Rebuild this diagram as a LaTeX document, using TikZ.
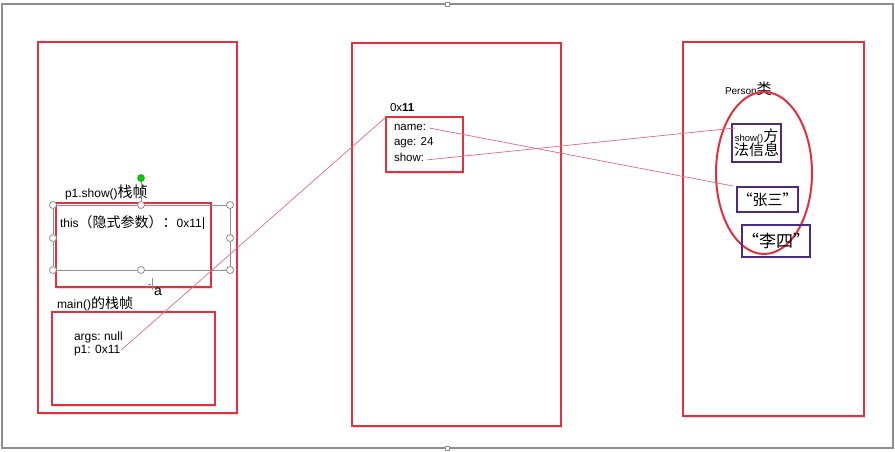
\documentclass[tikz,border=0pt]{standalone}
\usepackage{fontspec}
\setmainfont{Liberation Sans}
\newfontfamily\cjk{Noto Sans CJK SC}
\usetikzlibrary{positioning,shadows}
\definecolor{boxred}{HTML}{E2303F}
\definecolor{linkred}{HTML}{E06A80}
\definecolor{objpurple}{HTML}{4E2A80}
\definecolor{framegray}{HTML}{8E8E8E}
\begin{document}
\begin{tikzpicture}[x=1pt,y=-1pt,
  every node/.style={inner sep=0pt,outer sep=0pt},
  area/.style={draw=boxred,fill=white,line width=2pt,anchor=north west,
    drop shadow={opacity=0.25,shadow xshift=1pt,shadow yshift=-2pt}},
  entry/.style={draw=objpurple,line width=2pt,anchor=north west,align=center},
  handle/.style={circle,draw=framegray,fill=white,line width=0.8pt,minimum size=7pt},
  txt/.style={anchor=base west,font=\fontsize{11.5}{13}\selectfont},
  link/.style={draw=linkred,line width=0.7pt}]
  \useasboundingbox (0,0) rectangle (895,452);
  \draw[framegray,line width=1.5pt] (2,4) rectangle (893,448);
  \node[draw=framegray,fill=white,minimum size=4pt] (top) at (447,4) {};
  \node[draw=framegray,fill=white,minimum size=4pt] (bottom) at (447,448) {};
  % three memory areas
  \node[area,minimum width=199pt,minimum height=371pt] (stack) at (38,42) {};
  \node[area,minimum width=209pt,minimum height=383pt] (heap) at (352,43) {};
  \node[area,minimum width=181pt,minimum height=374pt] (methods) at (683,42) {};
  % stack frames
  \node[area,minimum width=155pt,minimum height=84pt] (showframe) at (56,203) {};
  \node[area,minimum width=163pt,minimum height=93pt] (mainframe) at (52,312) {};
  \node[txt,font=\fontsize{12}{13}\selectfont] (showlbl) at (65,197) {p1.show()\cjk\fontsize{15}{16}\selectfont 栈帧};
  \node[txt,font=\fontsize{12}{13}\selectfont] (thislbl) at (60,227) {this\cjk\fontsize{14}{15}\selectfont（隐式参数）：\rmfamily\fontsize{12}{13}\selectfont 0x11};
  \draw[black,line width=0.6pt] (thislbl.base east) ++(1.5,2) -- ++(0,-12);
  \node[txt,font=\fontsize{12}{13}\selectfont] (mainlbl) at (57,308) {main()\cjk\fontsize{14}{15}\selectfont 的栈帧};
  \node[txt,font=\fontsize{12}{13}\selectfont] (args) at (74,340) {args:\ null};
  \node[txt,font=\fontsize{12}{13}\selectfont] (p1) at (74,353) {p1: 0x11};
  % selection handles
  \draw[framegray,line width=0.9pt] (53,205) rectangle (230,270);
  \draw[framegray,line width=0.6pt] (141,181) -- (141,205);
  \node[circle,draw=green!60!black,fill=green!80!black,minimum size=7pt] (rot) at (141,178) {};
  \foreach \hx/\hy in {53/205,141/205,230/205,53/238,230/238,53/270,141/270,230/270}
    \node[handle] at (\hx,\hy) {};
  \draw[framegray,line width=0.6pt] (152,278) -- (152,290) (148,284) -- (151,284);
  \node[txt,font=\fontsize{14}{15}\selectfont] (cursor) at (154,295) {a};
  % object on the heap
  \node[txt] (addr) at (390,112) {0x\textbf{11}};
  \node[area,minimum width=77pt,minimum height=55pt] (obj) at (386,117) {};
  \node[txt] (name) at (394,131) {name:};
  \node[txt] (age) at (394,145) {age: 24};
  \node[txt] (show) at (394,161) {show:};
  % method area
  \node[txt] (person) at (725,95) {\fontsize{10}{11}\selectfont Person\cjk\fontsize{15}{16}\selectfont 类};
  \draw[boxred,line width=2pt] (764,173) ellipse (48 and 81);
  \node[entry,minimum width=49pt,minimum height=38pt] (showinfo) at (732,124)
    {{\fontsize{9.5}{10}\selectfont show()}{\cjk\fontsize{15}{16}\selectfont 方}\\[-2pt]{\cjk\fontsize{15}{16}\selectfont 法信息}};
  \node[entry,minimum width=61pt,minimum height=25pt,font=\cjk\fontsize{15}{16}\selectfont] (zs) at (737,187) {“张三”};
  \node[entry,minimum width=67pt,minimum height=32pt,font=\cjk\fontsize{17}{18}\selectfont] (ls) at (742,225) {“李四”};
  % references
  \coordinate (zsref) at (733,186);
  \coordinate (showref) at (735,128);
  \draw[link] (p1.base east) ++(1,-3) -- (obj.north west);
  \draw[link] (name.east) ++(3,0) -- (zsref);
  \draw[link] (show.east) ++(3,3) -- (showref);
\end{tikzpicture}
\end{document}
